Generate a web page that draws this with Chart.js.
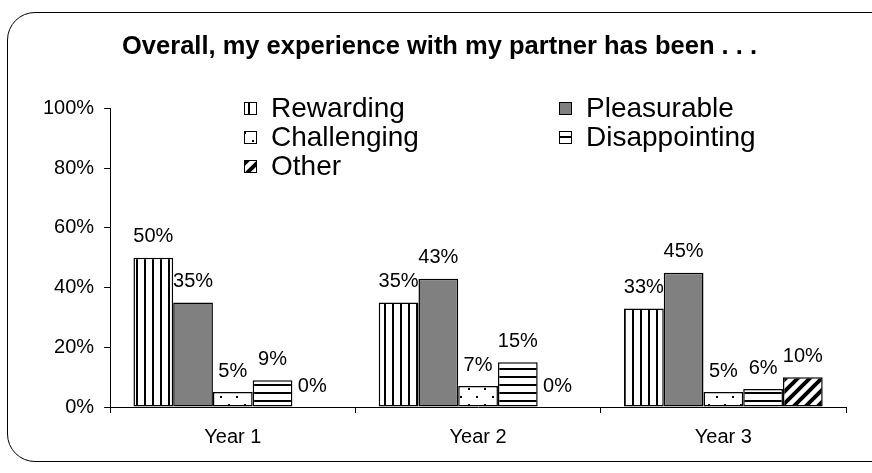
<!DOCTYPE html>
<html>
<head>
<meta charset="utf-8">
<script src="https://cdn.jsdelivr.net/npm/chart.js@4"></script>
<style>
  html, body { margin: 0; padding: 0; background: #fff; }
  body { width: 872px; height: 473px; position: relative; overflow: hidden; }
  #frame {
    position: absolute; left: 7px; top: 12px; width: 900px; height: 450px;
    border: 1.5px solid #000; border-radius: 28px; box-sizing: border-box;
  }
  #chart { position: absolute; left: 0; top: 0; }
</style>
</head>
<body>
<div id="frame"></div>
<canvas id="chart" width="872" height="473"></canvas>
<script>
// Data
const years = ['Year 1', 'Year 2', 'Year 3'];
const rewarding = [50, 35, 33];
const pleasurable = [35, 43, 45];
const challenging = [5, 7, 5];
const disappointing = [9, 15, 6];
const other = [0, 0, 10];
const yTicks = [0, 20, 40, 60, 80, 100];

const FONT = '"Liberation Sans", Arial, sans-serif';

// Pattern fills (like the old Excel hatches)
function makePattern (kind) {
    const c = document.createElement('canvas');
    const p = c.getContext('2d');
    if (kind === 'vert') {
        c.width = 8; c.height = 8;
        p.fillStyle = '#fff'; p.fillRect(0, 0, 8, 8);
        p.fillStyle = '#000'; p.fillRect(0, 0, 2, 8);
    } else if (kind === 'horiz') {
        c.width = 8; c.height = 8;
        p.fillStyle = '#fff'; p.fillRect(0, 0, 8, 8);
        p.fillStyle = '#000'; p.fillRect(0, 0, 8, 2);
    } else if (kind === 'dots') {
        c.width = 16; c.height = 16;
        p.fillStyle = '#fff'; p.fillRect(0, 0, 16, 16);
        p.fillStyle = '#000';
        p.fillRect(4, 4, 2, 2);
        p.fillRect(12, 12, 2, 2);
    } else if (kind === 'diag') {
        c.width = 12; c.height = 12;
        p.fillStyle = '#fff'; p.fillRect(0, 0, 12, 12);
        p.strokeStyle = '#000'; p.lineWidth = 4;
        p.beginPath();
        p.moveTo(-3, 15); p.lineTo(15, -3);
        p.moveTo(-9, 9); p.lineTo(9, -9);
        p.moveTo(3, 21); p.lineTo(21, 3);
        p.stroke();
    }
    return p.createPattern(c, 'repeat');
}

function ds (label, data, fill) {
    return { label, data, backgroundColor: fill, borderColor: '#000', borderWidth: 1.5, borderSkipped: false };
}

// Value labels above bars
const valueLabels = {
    id: 'valueLabels',
    afterDatasetsDraw (chart) {
        const ctx = chart.ctx;
        ctx.save();
        ctx.font = '20px ' + FONT;
        ctx.fillStyle = '#000';
        ctx.textAlign = 'center';
        ctx.textBaseline = 'middle';
        chart.data.datasets.forEach((d, i) => {
            chart.getDatasetMeta(i).data.forEach((bar, j) => {
                ctx.fillText(d.data[j] + '%', bar.x, bar.y - 21);
            });
        });
        ctx.restore();
    }
};

// Two-column legend inside the plot
const boxLegend = {
    id: 'boxLegend',
    afterDraw (chart) {
        const ctx = chart.ctx;
        const cols = [244, 559];
        const rows = [108, 137, 166];
        ctx.save();
        ctx.font = '28px ' + FONT;
        ctx.textBaseline = 'middle';
        ctx.textAlign = 'left';
        chart.data.datasets.forEach((d, i) => {
            const x = cols[i % 2];
            const y = rows[Math.floor(i / 2)];
            ctx.fillStyle = d.backgroundColor;
            ctx.fillRect(x, y - 6, 12, 12);
            ctx.strokeStyle = '#000';
            ctx.lineWidth = 1;
            ctx.strokeRect(x + 0.5, y - 5.5, 12, 12);
            ctx.fillStyle = '#000';
            ctx.fillText(d.label, x + 27, y + 1);
        });
        ctx.restore();
    }
};

new Chart(document.getElementById('chart'), {
    type: 'bar',
    data: {
        labels: years,
        datasets: [
            ds('Rewarding', rewarding, makePattern('vert')),
            ds('Pleasurable', pleasurable, '#808080'),
            ds('Challenging', challenging, makePattern('dots')),
            ds('Disappointing', disappointing, makePattern('horiz')),
            ds('Other', other, makePattern('diag'))
        ]
    },
    options: {
        responsive: false,
        animation: false,
        devicePixelRatio: 1,
        layout: { padding: { left: 33, right: 26, top: 0, bottom: 12 } },
        datasets: { bar: { categoryPercentage: 0.81, barPercentage: 1.0 } },
        plugins: {
            legend: { display: false },
            tooltip: { enabled: false },
            title: {
                display: true,
                text: 'Overall, my experience with my partner has been . . .',
                font: { family: FONT, size: 25.5, weight: 'bold' },
                color: '#000',
                padding: { top: 32, bottom: 46 }
            }
        },
        scales: {
            x: {
                grid: { display: true, drawOnChartArea: false, offset: true, tickLength: 6, color: '#000' },
                border: { color: '#000', width: 1 },
                ticks: { font: { family: FONT, size: 20 }, color: '#000', padding: 12 }
            },
            y: {
                min: 0, max: 100,
                afterBuildTicks (axis) { axis.ticks = yTicks.map(v => ({ value: v })); },
                grid: { display: true, drawOnChartArea: false, tickLength: 6, color: '#000' },
                border: { color: '#000', width: 1 },
                ticks: { font: { family: FONT, size: 20 }, color: '#000', padding: 10, callback: v => v + '%' }
            }
        }
    },
    plugins: [valueLabels, boxLegend]
});
</script>
</body>
</html>
